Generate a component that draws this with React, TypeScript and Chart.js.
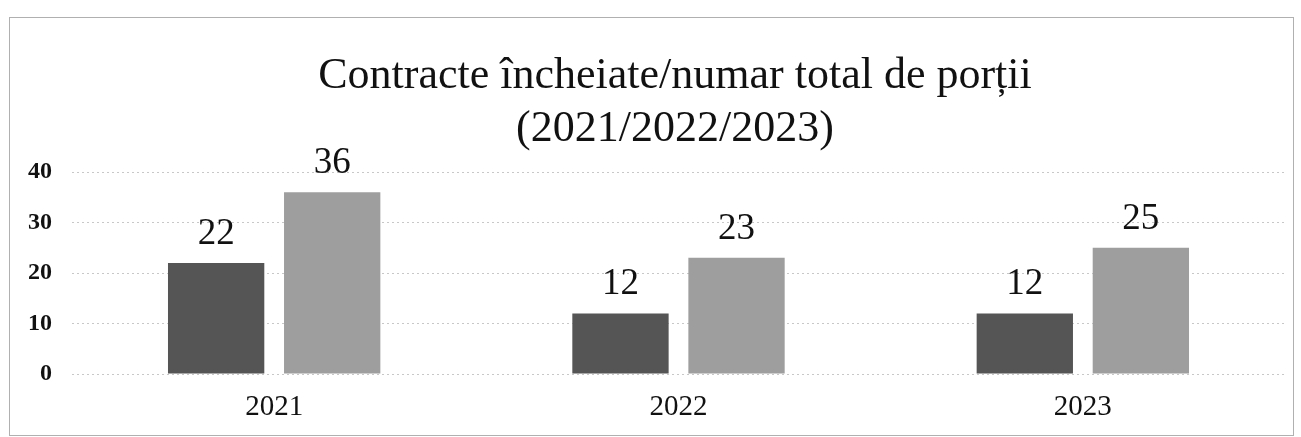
import React, { useEffect, useRef } from "react";
import { Chart, registerables } from "chart.js";

Chart.register(...registerables);

const categories = ["2021", "2022", "2023"];
const contracteValues = [22, 12, 12];
const portiiValues = [36, 23, 25];
const yTicks = [0, 10, 20, 30, 40];
const titleLines = ["Contracte încheiate/numar total de porții", "(2021/2022/2023)"];

const SERIF = "'Liberation Serif', 'Times New Roman', serif";

const valueLabels = {
  id: "valueLabels",
  afterDatasetsDraw(chart: any) {
    const ctx = chart.ctx;
    ctx.save();
    ctx.font = "37px " + SERIF;
    ctx.fillStyle = "#111";
    ctx.textAlign = "center";
    ctx.textBaseline = "alphabetic";
    chart.data.datasets.forEach((ds: any, di: number) => {
      const meta = chart.getDatasetMeta(di);
      meta.data.forEach((bar: any, i: number) => {
        ctx.fillText(String(ds.data[i]), bar.x, bar.y - 19);
      });
    });
    ctx.restore();
  },
};

const titleDraw = {
  id: "titleDraw",
  afterDraw(chart: any) {
    const ctx = chart.ctx;
    ctx.save();
    ctx.font = "44px " + SERIF;
    ctx.fillStyle = "#111";
    ctx.textAlign = "center";
    ctx.textBaseline = "middle";
    ctx.fillText(titleLines[0], 665, 58);
    ctx.fillText(titleLines[1], 665, 111);
    ctx.restore();
  },
};

const W = 1283;
const H = 417;

export default function App() {
  const ref = useRef<HTMLCanvasElement>(null);
  useEffect(() => {
    if (!ref.current) return;
    const chart = new Chart(ref.current, {
      type: "bar",
      data: {
        labels: categories,
        datasets: [
          {
            label: "Contracte încheiate",
            data: contracteValues,
            backgroundColor: "#555555",
            categoryPercentage: 0.574,
            barPercentage: 0.83,
          },
          {
            label: "Număr total de porții",
            data: portiiValues,
            backgroundColor: "#9e9e9e",
            categoryPercentage: 0.574,
            barPercentage: 0.83,
          },
        ],
      },
      options: {
        responsive: false,
        animation: false,
        layout: { padding: { left: 0, right: 8, top: 154, bottom: 0 } },
        plugins: {
          legend: { display: false },
          tooltip: { enabled: false },
          title: { display: false },
        },
        scales: {
          x: {
            grid: { display: false },
            border: { display: false },
            afterFit: (axis: any) => {
              axis.height = 61;
            },
            ticks: {
              color: "#111",
              font: { family: SERIF, size: 29 },
              padding: 8,
            },
          },
          y: {
            min: 0,
            max: 40,
            afterBuildTicks: (axis: any) => {
              axis.ticks = yTicks.map((v) => ({ value: v }));
            },
            afterFit: (axis: any) => {
              axis.width = 62;
            },
            grid: { color: "#c8c8c8", drawTicks: false, lineWidth: 1 },
            border: { display: false, dash: [2, 3] },
            ticks: {
              color: "#111",
              font: { family: SERIF, size: 24, weight: "bold" },
              padding: 20,
            },
          },
        },
      },
      plugins: [valueLabels, titleDraw],
    });
    return () => chart.destroy();
  }, []);
  return (
    <div
      style={{
        position: "absolute",
        left: 9,
        top: 17,
        width: W,
        height: H,
        border: "1px solid #b0b0b0",
        background: "#fff",
      }}
    >
      <canvas ref={ref} width={W} height={H} style={{ display: "block" }} />
    </div>
  );
}
